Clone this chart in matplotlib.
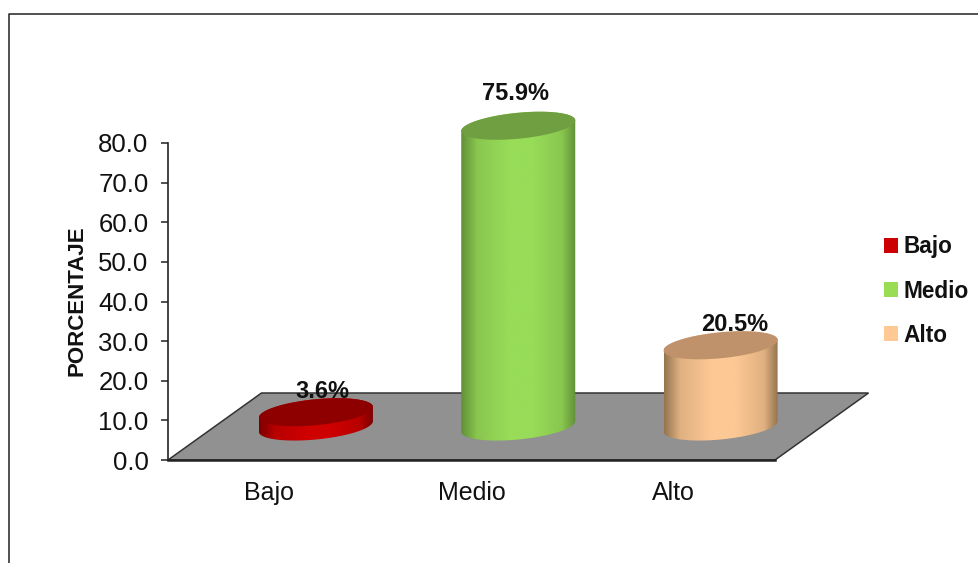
import numpy as np
import matplotlib
matplotlib.use('Agg')
from matplotlib import pyplot as plt
from matplotlib.colors import LinearSegmentedColormap, to_rgb
from matplotlib.lines import Line2D
from matplotlib.patches import Patch, Polygon

plt.rcParams['font.family'] = ['Liberation Sans', 'DejaVu Sans']

categories = ['Bajo', 'Medio', 'Alto']
values = [3.6, 75.9, 20.5]
y_ticks = [0, 10, 20, 30, 40, 50, 60, 70, 80]

# shading of each cylinder: edge, middle, top face
edge_colors = ['#7c0000', '#628f38', '#94744f']
mid_colors = ['#cf0000', '#98dc58', '#fdc894']
top_colors = ['#8e0000', '#6f9f40', '#bf926b']
legend_colors = ['#cc0000', '#99dd55', '#fec995']

# nudges for the value labels, in pixels
label_offsets = [(7, 21), (-3, 32), (14, 21)]

W, H = 979, 563
fig = plt.figure(figsize=(W / 100, H / 100), dpi=100)
ax = fig.add_axes([168 / W, (H - 460) / H, 607 / W, 317 / H])
ax.set_xlim(0, 3)
ax.set_ylim(0, 80)
ax.patch.set_visible(False)

# size of one pixel in data units
px_x = 3 / 607
px_y = 80 / 317

# floor depth
depth_x = 93.5 * px_x
depth_y = 67 * px_y

floor = Polygon([(0, 0), (3, 0), (3 + depth_x, depth_y), (depth_x, depth_y)],
                closed=True, facecolor='#919191', edgecolor='#333333',
                linewidth=1.1, clip_on=False, zorder=1)
ax.add_patch(floor)

rx = 57 * px_x
ry = 13 * px_y
tilt = 5.3 * px_y


def ellipse(cx, cy, t):
    return np.column_stack([cx + rx * np.cos(t), cy + ry * np.sin(t) + tilt * np.cos(t)])


def blend(c1, c2, f):
    return tuple((1 - f) * a + f * b for a, b in zip(to_rgb(c1), to_rgb(c2)))


for i, val in enumerate(values):
    cx = i + 0.5 + depth_x / 2
    y0 = depth_y / 2
    y1 = y0 + val

    # body outline: lower half of the base, upper half of the top
    lower = ellipse(cx, y0, np.linspace(np.pi, 2 * np.pi, 80))
    upper = ellipse(cx, y1, np.linspace(0, np.pi, 80))
    body = Polygon(np.vstack([lower, upper]), closed=True, facecolor='none',
                   edgecolor='none', transform=ax.transData, clip_on=False)
    ax.add_patch(body)

    shoulder = blend(edge_colors[i], mid_colors[i], 0.72)
    cmap = LinearSegmentedColormap.from_list(
        'cyl', [(0, edge_colors[i]), (0.14, shoulder), (0.42, mid_colors[i]), (0.62, mid_colors[i]),
                (0.88, shoulder), (1, edge_colors[i])])
    shade = np.linspace(0, 1, 256).reshape(1, -1)
    im = ax.imshow(shade, cmap=cmap, aspect='auto', zorder=2, interpolation='bilinear',
                   extent=[cx - rx, cx + rx, y0 - ry - tilt - 1, y1 + ry + tilt + 1])
    im.set_clip_box(fig.bbox)
    im.set_clip_path(body)

    top = Polygon(ellipse(cx, y1, np.linspace(0, 2 * np.pi, 160)), closed=True,
                  facecolor=top_colors[i], edgecolor='none', clip_on=False, zorder=3)
    ax.add_patch(top)

    ax.annotate('{:.1f}%'.format(val), (cx, y1), xytext=label_offsets[i],
                textcoords='offset pixels', ha='center', va='center',
                fontsize=17, fontweight='bold', color='#111111',
                annotation_clip=False, zorder=5)

ax.set_xlim(0, 3)
ax.set_ylim(0, 80)

ax.set_xticks(np.arange(3) + 0.5)
ax.set_xticklabels(categories, fontsize=18, color='#111111')
ax.set_yticks(y_ticks)
ax.set_yticklabels(['{:.1f}'.format(v) for v in y_ticks], fontsize=18.5, color='#111111')
ax.tick_params(axis='x', length=0, pad=15)
ax.tick_params(axis='y', length=5, width=1.1, color='#222222', pad=9)
ax.set_ylabel('PORCENTAJE', fontsize=16, fontweight='bold', color='#111111')
ax.yaxis.set_label_coords(-0.132, 0.504)

for side in ['top', 'right']:
    ax.spines[side].set_visible(False)
ax.spines['left'].set_linewidth(1.2)
ax.spines['left'].set_color('#222222')
ax.spines['bottom'].set_linewidth(1.8)
ax.spines['bottom'].set_color('#222222')
ax.spines['bottom'].set_zorder(4)

handles = [Patch(facecolor=c, edgecolor='none') for c in legend_colors]
leg = fig.legend(handles, categories, loc='center left', bbox_to_anchor=(884 / W, 1 - 291 / H),
                 frameon=False, handlelength=0.62, handleheight=0.62, handletextpad=0.26,
                 labelspacing=0.93, borderpad=0, borderaxespad=0,
                 prop={'size': 16.3, 'weight': 'bold'})
for t in leg.get_texts():
    t.set_color('#111111')

# outer frame, open on the right and at the bottom
fig.add_artist(Line2D([9 / W, 9 / W, 1], [0, 1 - 13.5 / H, 1 - 13.5 / H],
                      transform=fig.transFigure, color='#222222', linewidth=1.1))

fig.savefig('out.png', dpi=100)
